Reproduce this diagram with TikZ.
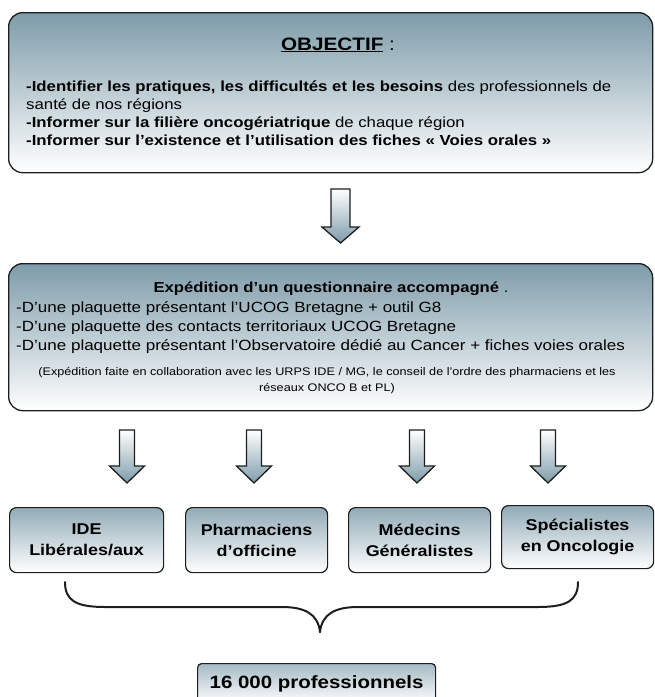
\documentclass[tikz,border=0pt]{standalone}
\usepackage{fontspec}
\setmainfont[FakeStretch=1.15]{Liberation Sans}
\begin{document}
\begin{tikzpicture}[x=1pt,y=-1pt]
\definecolor{steel}{HTML}{7E9CAA}
\definecolor{edge}{HTML}{1E1E1E}
\tikzset{
  bigbox/.style={draw=edge, line width=1.3pt, rounded corners=14pt, top color=steel, bottom color=white, inner sep=0pt},
  catbox/.style={draw=edge, line width=1.2pt, rounded corners=7pt, top color=steel!85, middle color=steel!55, bottom color=white, inner sep=0pt, align=center, font=\fontsize{15.6}{21}\selectfont\bfseries},
  txt/.style={anchor=base west, inner sep=0pt, font=\fontsize{14.6}{17}\selectfont},
  txtb/.style={anchor=base west, inner sep=0pt, font=\fontsize{14.8}{17}\selectfont},
  small/.style={anchor=base, inner sep=0pt, font=\fontsize{11}{13}\selectfont},
  blockarrow/.style={draw=edge, line width=1.3pt, top color=white, bottom color=steel, line join=miter},
  brace/.style={draw=edge, line width=2pt, line cap=round}
}
\useasboundingbox (0,0) rectangle (655,697);
% top box
\node[bigbox, minimum width=644, minimum height=160, anchor=north west] (obj) at (8,12) {};
\node[anchor=base, inner sep=0pt, font=\fontsize{18}{20}\selectfont] (objt) at (338,50) {\underline{\textbf{OBJECTIF}} :};
\node[txt] (o1) at (26,91) {\textbf{-Identifier les pratiques, les difficultés et les besoins} des professionnels de};
\node[txt] (o2) at (26,109) {santé de nos régions};
\node[txt] (o3) at (26,127) {\textbf{-Informer sur la filière oncogériatrique} de chaque région};
\node[txt] (o4) at (26,145) {\textbf{-Informer sur l’existence et l’utilisation des fiches « Voies orales »}};
% big arrow
\shade[blockarrow] (331,189) -- (350,189) -- (350,227) -- (359,227) -- (340.5,243) -- (322,227) -- (331,227) -- cycle;
% second box
\node[bigbox, minimum width=644, minimum height=147, anchor=north west] (exp) at (8,263) {};
\node[anchor=base, inner sep=0pt, font=\fontsize{14.5}{17}\selectfont] (et) at (331,292) {\textbf{Expédition d’un questionnaire accompagné} .};
\node[txtb] (e1) at (16,312) {-D’une plaquette présentant l’UCOG Bretagne + outil G8};
\node[txtb] (e2) at (16,331) {-D’une plaquette des contacts territoriaux UCOG Bretagne};
\node[txtb] (e3) at (16,350) {-D’une plaquette présentant l’Observatoire dédié au Cancer + fiches voies orales};
\node[small] (s1) at (327,375) {(Expédition faite en collaboration avec les URPS IDE / MG, le conseil de l’ordre des pharmaciens et les};
\node[small] (s2) at (327,391) {réseaux ONCO B et PL)};
% small arrows
\foreach \cx in {127,254,417,548}{
  \shade[blockarrow] (\cx-7.5,430) -- (\cx+7.5,430) -- (\cx+7.5,466) -- (\cx+17.5,466) -- (\cx,483) -- (\cx-17.5,466) -- (\cx-7.5,466) -- cycle;
}
% category boxes
\node[catbox, minimum width=154, minimum height=65, anchor=north west] (ide) at (9,507) {IDE\\Libérales/aux};
\node[catbox, minimum width=142, minimum height=65, anchor=north west] (pha) at (185,507) {Pharmaciens\\d’officine};
\node[catbox, minimum width=142, minimum height=65, anchor=north west] (med) at (348,507) {Médecins\\Généralistes};
\node[catbox, minimum width=152, minimum height=63, anchor=north west] (spe) at (501,505) {Spécialistes\\en Oncologie};
% brace
\coordinate (bl) at (65,582);
\coordinate (bm) at (320,632);
\coordinate (br) at (578,582);
\draw[brace] (bl) .. controls (65,600) and (75,607) .. (105,607) -- (282,607) .. controls (305,607) and (318,614) .. (bm);
\draw[brace] (bm) .. controls (322,614) and (335,607) .. (358,607) -- (538,607) .. controls (568,607) and (578,600) .. (br);
% total
\node[catbox, font=\fontsize{17.8}{20}\selectfont\bfseries, rounded corners=4pt, minimum width=238, minimum height=40, anchor=north west, top color=steel!70, middle color=steel!35, bottom color=white] (tot) at (197,663) {16 000 professionnels};
\end{tikzpicture}
\end{document}
